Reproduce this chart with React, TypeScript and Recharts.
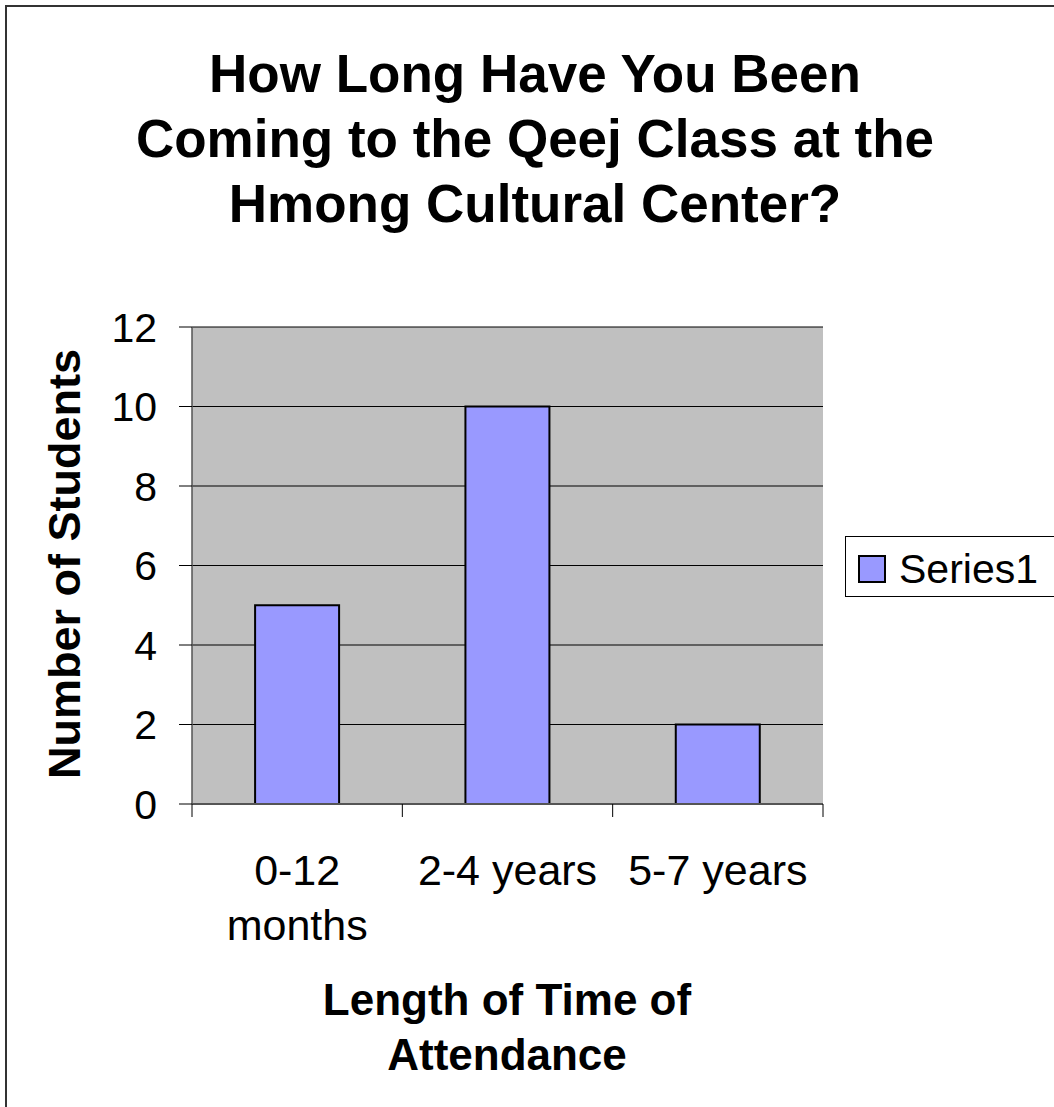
import { BarChart, Bar, XAxis, YAxis, CartesianGrid, Legend } from 'recharts';

const categories = ['0-12\nmonths', '2-4 years', '5-7 years'];
const series1 = [5, 10, 2];
const yTicks = [0, 2, 4, 6, 8, 10, 12];
const titleLines = ['How Long Have You Been', 'Coming to the Qeej Class at the', 'Hmong Cultural Center?'];
const xTitleLines = ['Length of Time of', 'Attendance'];
const yTitle = 'Number of Students';

const FONT = '"Liberation Sans", Arial, Helvetica, sans-serif';

const data = categories.map((name, i) => ({ name, Series1: series1[i] }));

// ticks sit on the category borders, labels at the centres (Excel style)
const CategoryTick = (props: any) => {
  const { x, y, payload, index, visibleTicksCount, width } = props;
  const half = payload.offset ?? width / visibleTicksCount / 2;
  const lines = String(payload.value).split('\n');
  return (
    <g>
      <line x1={x - half} y1={y} x2={x - half} y2={y + 13} stroke="#000" strokeWidth={1} />
      {index === visibleTicksCount - 1 && (
        <line x1={x + half} y1={y} x2={x + half} y2={y + 13} stroke="#000" strokeWidth={1} />
      )}
      <text x={x} y={y + 66} textAnchor="middle" fontSize={43} fill="#000" fontFamily={FONT}>
        {lines.map((l, i) => (
          <tspan key={i} x={x} dy={i === 0 ? '0.355em' : 55}>
            {l}
          </tspan>
        ))}
      </text>
    </g>
  );
};

const LegendBox = (props: any) => {
  const { payload } = props;
  return (
    <div style={{ position: 'relative', width: '100%', height: '100%' }}>
      {(payload || []).map((item: any) => (
        <div key={item.value}>
          <div
            style={{
              position: 'absolute',
              left: 12,
              top: 18,
              width: 28,
              height: 28,
              boxSizing: 'border-box',
              border: '2px solid #000',
              background: item.color,
            }}
          />
          <div
            style={{
              position: 'absolute',
              left: 53,
              top: 6,
              fontSize: 41,
              lineHeight: '52px',
              fontFamily: FONT,
              color: '#000',
              whiteSpace: 'nowrap',
            }}
          >
            {item.value}
          </div>
        </div>
      ))}
    </div>
  );
};

export default function App() {
  return (
    <div
      style={{
        position: 'absolute',
        left: 0,
        top: 0,
        width: 1054,
        height: 1107,
        overflow: 'hidden',
        background: '#fff',
        fontFamily: FONT,
      }}
    >
      {/* outer chart border, right/bottom edges fall outside the picture */}
      <div
        style={{
          position: 'absolute',
          left: 5,
          top: 5,
          width: 1100,
          height: 1150,
          borderLeft: '2px solid #333',
          borderTop: '2px solid #333',
        }}
      />

      <BarChart
        width={1054}
        height={1107}
        data={data}
        margin={{ top: 327, right: 231, bottom: 103, left: 92 }}
        barCategoryGap="30%"
        style={{ position: 'absolute', left: 0, top: 0 }}
      >
        <CartesianGrid
          vertical={false}
          fill="#C0C0C0"
          fillOpacity={1}
          stroke="#000"
          strokeWidth={1}
        />
        <XAxis
          dataKey="name"
          interval={0}
          height={200}
          tickSize={0}
          tickMargin={0}
          tickLine={false}
          axisLine={{ stroke: '#555', strokeWidth: 2 }}
          tick={<CategoryTick />}
        />
        <YAxis
          width={100}
          domain={[0, 12]}
          ticks={yTicks}
          interval={0}
          tickSize={13}
          tickMargin={22}
          axisLine={{ stroke: '#555', strokeWidth: 1.5 }}
          tickLine={{ stroke: '#000' }}
          tick={{ fontSize: 41, fill: '#000', fontFamily: FONT }}
        />
        <YAxis
          yAxisId="right"
          orientation="right"
          width={0}
          domain={[0, 12]}
          tick={false}
          tickLine={false}
          axisLine={{ stroke: '#888', strokeWidth: 2 }}
        />
        <Legend
          layout="horizontal"
          verticalAlign="middle"
          align="center"
          content={<LegendBox />}
          wrapperStyle={{
            left: 845,
            top: 536,
            width: 230,
            height: 61,
            boxSizing: 'border-box',
            border: '1px solid #000',
            background: '#fff',
          }}
        />
        <Bar
          dataKey="Series1"
          name="Series1"
          fill="#9999FF"
          stroke="#000"
          strokeWidth={2}
          isAnimationActive={false}
        />
      </BarChart>

      {titleLines.map((line, i) => (
        <div
          key={line}
          style={{
            position: 'absolute',
            left: 0,
            width: 1070,
            top: 74 + i * 65 - 30,
            height: 60,
            lineHeight: '60px',
            textAlign: 'center',
            fontSize: 53,
            fontWeight: 'bold',
            whiteSpace: 'nowrap',
          }}
        >
          {line}
        </div>
      ))}

      <div
        style={{
          position: 'absolute',
          left: 65,
          top: 564,
          transform: 'translate(-50%, -50%) rotate(-90deg)',
          fontSize: 45,
          fontWeight: 'bold',
          lineHeight: '50px',
          whiteSpace: 'nowrap',
        }}
      >
        {yTitle}
      </div>

      {xTitleLines.map((line, i) => (
        <div
          key={line}
          style={{
            position: 'absolute',
            left: 0,
            width: 1014,
            top: 1000 + i * 55 - 25,
            height: 50,
            lineHeight: '50px',
            textAlign: 'center',
            fontSize: 44,
            fontWeight: 'bold',
            whiteSpace: 'nowrap',
          }}
        >
          {line}
        </div>
      ))}
    </div>
  );
}
